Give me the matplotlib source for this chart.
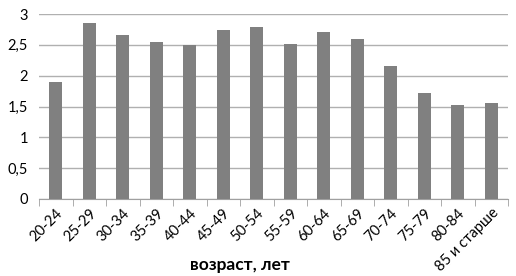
import matplotlib
matplotlib.use("Agg")
import matplotlib.pyplot as plt
import numpy as np

plt.rcParams['font.family'] = ['Lato', 'DejaVu Sans']

categories = ["20-24", "25-29", "30-34", "35-39", "40-44", "45-49", "50-54",
              "55-59", "60-64", "65-69", "70-74", "75-79", "80-84", "85 и старше"]
values = [1.90, 2.85, 2.66, 2.55, 2.50, 2.74, 2.79, 2.52, 2.71, 2.60, 2.16, 1.72, 1.52, 1.56]
yticks = [0, 0.5, 1, 1.5, 2, 2.5, 3]
ytick_labels = ["0", "0,5", "1", "1,5", "2", "2,5", "3"]

fig = plt.figure(figsize=(5.16, 2.76), dpi=100)
ax = fig.add_axes([39/516, 1 - 199/276, (508 - 39)/516, (199 - 14)/276])

x = np.arange(len(categories))
ax.bar(x, values, width=0.4, color="#808080", zorder=3)
ax.set_xlim(-0.5, len(categories) - 0.5)
ax.set_ylim(0, 3)
ax.set_yticks(yticks)
ax.set_yticklabels(ytick_labels, fontsize=10.5)
ax.yaxis.grid(True, color="#b0b0b0", linewidth=1, zorder=0)
ax.tick_params(axis='y', length=0, pad=8)
for s in ["top", "right", "left"]:
    ax.spines[s].set_visible(False)
ax.spines["bottom"].set_color("#a0a0a0")

ax.set_xticks(x)
ax.set_xticklabels(categories, rotation=45, ha="right", rotation_mode="anchor", fontsize=10.5)
ax.tick_params(axis='x', length=0, pad=5)
ax.set_xticks(np.arange(-0.5, len(categories)), minor=True)
ax.tick_params(axis='x', which='minor', length=5, color="#a0a0a0")

fig.text(240/516, 1 - 265/276, "возраст, лет", fontsize=12.5, fontweight="bold",
         ha="center", va="center")

fig.savefig("out.png", dpi=100)
